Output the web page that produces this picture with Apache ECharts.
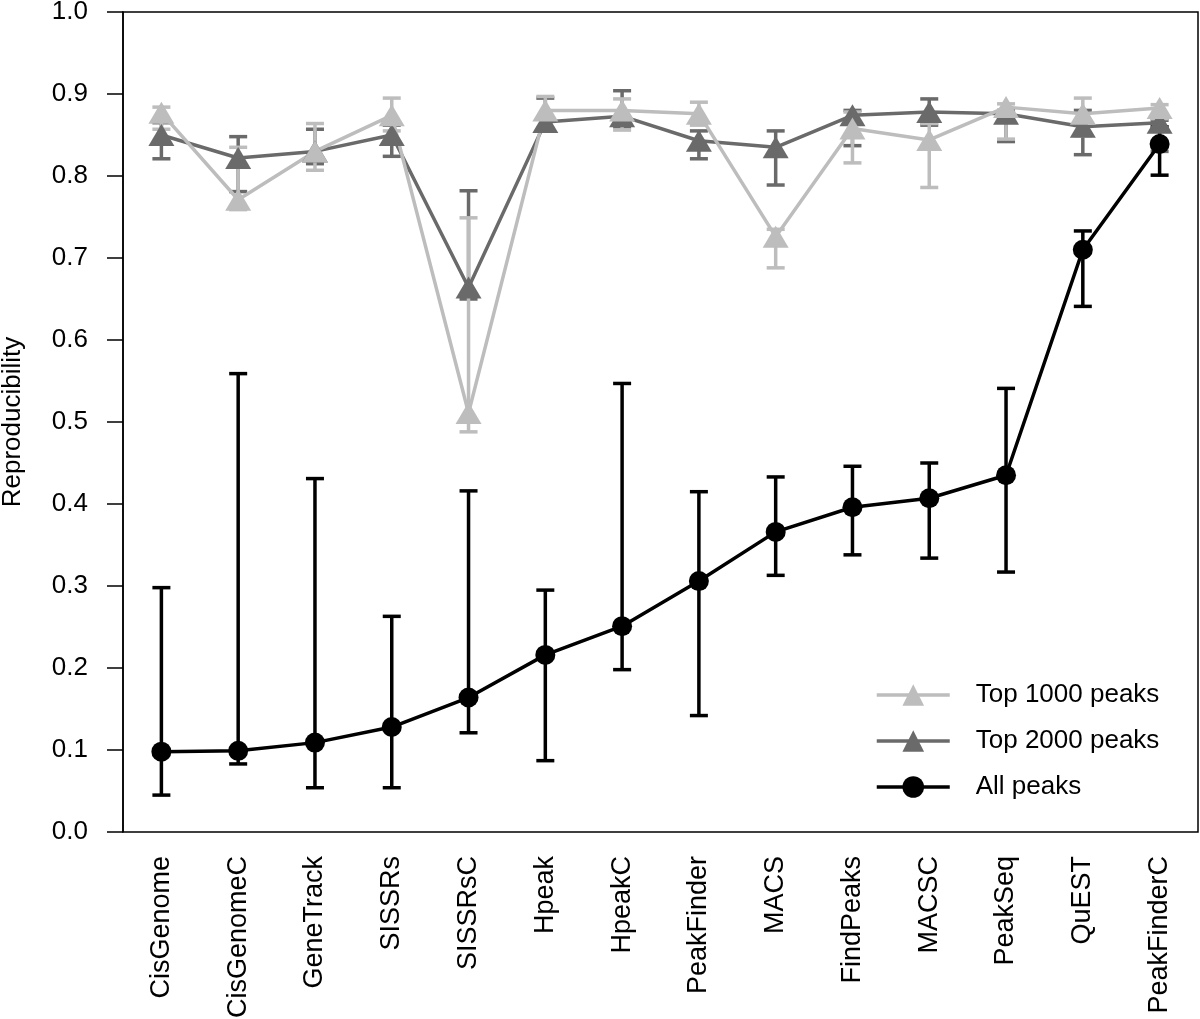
<!DOCTYPE html>
<html>
<head>
<meta charset="utf-8">
<script src="https://cdn.jsdelivr.net/npm/echarts@6/dist/echarts.min.js"></script>
<style>
html,body{margin:0;padding:0;background:#fff;}
#chart{width:1200px;height:1019px;}
</style>
</head>
<body>
<div id="chart"></div>
<script>
var categories = ['CisGenome','CisGenomeC','GeneTrack','SISSRs','SISSRsC','Hpeak','HpeakC','PeakFinder','MACS','FindPeaks','MACSC','PeakSeq','QuEST','PeakFinderC'];

var allMean = [0.098,0.099,0.109,0.128,0.164,0.216,0.251,0.306,0.366,0.396,0.407,0.435,0.710,0.839];
var allLow  = [0.045,0.083,0.054,0.054,0.121,0.087,0.198,0.142,0.313,0.338,0.334,0.317,0.641,0.801];
var allHigh = [0.298,0.559,0.431,0.263,0.416,0.295,0.547,0.415,0.433,0.446,0.450,0.541,0.733,0.860];

var top1000Mean = [0.877,0.771,0.830,0.874,0.511,0.880,0.880,0.876,0.726,0.858,0.844,0.884,0.876,0.883];
var top1000Low  = [0.857,0.759,0.807,0.855,0.488,0.855,0.856,0.862,0.688,0.816,0.786,0.845,0.849,0.870];
var top1000High = [0.884,0.835,0.864,0.895,0.749,0.897,0.894,0.890,0.735,0.878,0.864,0.888,0.895,0.887];

var top2000Mean = [0.850,0.822,0.830,0.850,0.664,0.866,0.873,0.843,0.835,0.874,0.878,0.876,0.860,0.865];
var top2000Low  = [0.821,0.781,0.815,0.824,0.650,0.858,0.860,0.821,0.789,0.837,0.862,0.842,0.826,0.830];
var top2000High = [0.865,0.848,0.857,0.862,0.782,0.895,0.904,0.855,0.855,0.880,0.894,0.880,0.880,0.868];

var yTicks = [0,0.1,0.2,0.3,0.4,0.5,0.6,0.7,0.8,0.9,1.0];

var LIGHT = '#bdbdbd', DARK = '#6a6a6a', BLACK = '#000000';
var FONT = '"Liberation Sans", Arial, sans-serif';

function errData(low, high){
  return categories.map(function(c,i){ return [i, low[i], high[i]]; });
}
function errSeries(name, low, high, color){
  return {
    type:'custom', name:name, silent:true, clip:false,
    data: errData(low, high),
    encode:{x:0, y:[1,2]},
    renderItem:function(params, api){
      var x = api.value(0);
      var lo = api.coord([x, api.value(1)]);
      var hi = api.coord([x, api.value(2)]);
      var hw = 9;
      var st = {stroke:color, lineWidth:3.5};
      return {type:'group', children:[
        {type:'line', shape:{x1:lo[0],y1:lo[1],x2:hi[0],y2:hi[1]}, style:st},
        {type:'line', shape:{x1:lo[0]-hw,y1:lo[1],x2:lo[0]+hw,y2:lo[1]}, style:st},
        {type:'line', shape:{x1:hi[0]-hw,y1:hi[1],x2:hi[0]+hw,y2:hi[1]}, style:st}
      ]};
    }
  };
}
function lineSeries(name, data, color, symbol, size){
  return {
    type:'line', name:name, data:data, symbol:symbol, symbolSize:size,
    showAllSymbol:true,
    lineStyle:{color:color, width:3.5},
    itemStyle:{color:color},
    emphasis:{disabled:true}, animation:false
  };
}

var chart = echarts.init(document.getElementById('chart'), null, {renderer:'canvas'});
chart.setOption({
  animation:false,
  backgroundColor:'#ffffff',
  grid:{left:123, right:2, top:12, bottom:187, containLabel:false, outerBoundsMode:'none',
        show:true, borderColor:'#000', borderWidth:1.5, backgroundColor:'transparent'},
  legend:{
    data:['Top 1000 peaks','Top 2000 peaks','All peaks'],
    orient:'vertical', left:870, top:677,
    itemWidth:73, itemHeight:27, itemGap:20,
    lineStyle:{width:3.5},
    textStyle:{fontFamily:FONT, fontSize:26, color:'#000', padding:[0,0,0,21]},
    selectedMode:false
  },
  xAxis:{
    type:'category', data:categories, boundaryGap:true,
    axisLine:{show:false}, axisTick:{show:false}, splitLine:{show:false},
    axisLabel:{rotate:90, margin:24, fontFamily:FONT, fontSize:27, color:'#000', interval:0}
  },
  yAxis:{
    type:'value', min:0, max:1, interval:0.1,
    name:'Reproducibility', nameLocation:'middle', nameRotate:90, nameGap:97,
    nameTextStyle:{fontFamily:FONT, fontSize:26, color:'#000'},
    axisLine:{show:true, lineStyle:{color:'#000', width:1.5}},
    axisTick:{show:true, inside:false, length:16, lineStyle:{color:'#000', width:1.5}},
    splitLine:{show:false},
    axisLabel:{margin:35, fontFamily:FONT, fontSize:26, color:'#000',
      formatter:function(v){ return v.toFixed(1); }}
  },
  series:[
    errSeries('err2000', top2000Low, top2000High, DARK),
    lineSeries('Top 2000 peaks', top2000Mean, DARK, 'triangle', [26,22]),
    errSeries('err1000', top1000Low, top1000High, LIGHT),
    lineSeries('Top 1000 peaks', top1000Mean, LIGHT, 'triangle', [26,22]),
    errSeries('errAll', allLow, allHigh, BLACK),
    lineSeries('All peaks', allMean, BLACK, 'circle', 20)
  ]
});
</script>
</body>
</html>
